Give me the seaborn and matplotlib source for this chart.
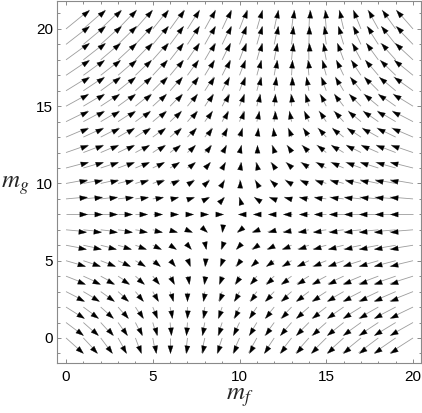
import numpy as np
import pandas as pd
import matplotlib
matplotlib.use("Agg")
import matplotlib.pyplot as plt
import seaborn as sns
from matplotlib.markers import MarkerStyle
from matplotlib.path import Path
from matplotlib.collections import LineCollection
from matplotlib.ticker import MultipleLocator

# ---------------- data ----------------
# arrow tails sit on the integer grid m_f = 0..20, m_g = 0..20
MF_GRID = list(range(21))
MG_GRID = list(range(21))

# horizontal component of each drawn arrow (grid units), one row per m_g value 0..20
U_ROWS = [
    [0.96, 0.80, 0.64, 0.48, 0.32, 0.16, 0.00, -0.10, -0.19, -0.29, -0.38, -0.48, -0.57, -0.67, -0.76, -0.86, -0.95, -1.05, -1.14, -1.24, -1.33],
    [0.99, 0.84, 0.68, 0.53, 0.37, 0.22, 0.06, -0.06, -0.16, -0.25, -0.35, -0.45, -0.55, -0.65, -0.74, -0.84, -0.94, -1.04, -1.13, -1.23, -1.33],
    [1.02, 0.87, 0.72, 0.56, 0.41, 0.26, 0.11, -0.03, -0.13, -0.23, -0.33, -0.43, -0.53, -0.63, -0.73, -0.83, -0.93, -1.03, -1.13, -1.23, -1.33],
    [1.05, 0.90, 0.75, 0.60, 0.45, 0.30, 0.15, 0.00, -0.10, -0.21, -0.31, -0.41, -0.52, -0.62, -0.72, -0.82, -0.93, -1.03, -1.13, -1.24, -1.34],
    [1.08, 0.94, 0.79, 0.65, 0.50, 0.36, 0.22, 0.07, -0.05, -0.16, -0.27, -0.38, -0.48, -0.59, -0.70, -0.80, -0.91, -1.02, -1.13, -1.23, -1.34],
    [1.11, 0.97, 0.83, 0.69, 0.55, 0.41, 0.27, 0.13, -0.01, -0.12, -0.23, -0.34, -0.45, -0.56, -0.68, -0.79, -0.90, -1.01, -1.12, -1.23, -1.34],
    [1.14, 1.00, 0.87, 0.73, 0.60, 0.46, 0.33, 0.19, 0.05, -0.07, -0.19, -0.30, -0.42, -0.54, -0.65, -0.77, -0.88, -1.00, -1.12, -1.23, -1.35],
    [1.17, 1.04, 0.91, 0.78, 0.64, 0.51, 0.38, 0.25, 0.12, -0.01, -0.13, -0.26, -0.38, -0.50, -0.62, -0.74, -0.86, -0.99, -1.11, -1.23, -1.35],
    [1.20, 1.07, 0.94, 0.81, 0.68, 0.55, 0.43, 0.30, 0.17, 0.04, -0.09, -0.21, -0.34, -0.47, -0.59, -0.72, -0.85, -0.97, -1.10, -1.22, -1.35],
    [1.21, 1.09, 0.96, 0.84, 0.72, 0.59, 0.47, 0.35, 0.22, 0.10, -0.03, -0.16, -0.29, -0.42, -0.55, -0.68, -0.81, -0.95, -1.08, -1.21, -1.34],
    [1.22, 1.10, 0.98, 0.86, 0.74, 0.62, 0.50, 0.37, 0.25, 0.13, 0.01, -0.12, -0.25, -0.39, -0.52, -0.65, -0.79, -0.92, -1.05, -1.19, -1.32],
    [1.24, 1.12, 1.00, 0.89, 0.77, 0.65, 0.53, 0.41, 0.30, 0.18, 0.06, -0.07, -0.21, -0.34, -0.48, -0.62, -0.75, -0.89, -1.03, -1.16, -1.30],
    [1.25, 1.14, 1.02, 0.91, 0.80, 0.68, 0.57, 0.45, 0.34, 0.23, 0.11, 0.00, -0.14, -0.28, -0.42, -0.56, -0.71, -0.85, -0.99, -1.13, -1.27],
    [1.26, 1.15, 1.04, 0.93, 0.83, 0.72, 0.61, 0.50, 0.39, 0.28, 0.17, 0.07, -0.06, -0.21, -0.35, -0.50, -0.65, -0.80, -0.94, -1.09, -1.24],
    [1.27, 1.17, 1.06, 0.96, 0.85, 0.75, 0.65, 0.54, 0.44, 0.33, 0.23, 0.13, 0.02, -0.12, -0.28, -0.43, -0.58, -0.74, -0.89, -1.05, -1.20],
    [1.29, 1.19, 1.08, 0.98, 0.88, 0.78, 0.68, 0.57, 0.47, 0.37, 0.27, 0.16, 0.06, -0.06, -0.22, -0.38, -0.53, -0.69, -0.85, -1.00, -1.16],
    [1.30, 1.20, 1.10, 1.00, 0.90, 0.80, 0.70, 0.61, 0.51, 0.41, 0.31, 0.21, 0.11, 0.01, -0.15, -0.31, -0.47, -0.63, -0.80, -0.96, -1.12],
    [1.31, 1.21, 1.12, 1.02, 0.92, 0.82, 0.73, 0.63, 0.53, 0.44, 0.34, 0.24, 0.15, 0.05, -0.08, -0.25, -0.42, -0.58, -0.75, -0.91, -1.08],
    [1.32, 1.23, 1.13, 1.04, 0.94, 0.85, 0.75, 0.66, 0.56, 0.47, 0.37, 0.28, 0.18, 0.09, -0.02, -0.19, -0.36, -0.53, -0.70, -0.87, -1.04],
    [1.33, 1.24, 1.14, 1.05, 0.96, 0.86, 0.77, 0.67, 0.58, 0.49, 0.39, 0.30, 0.21, 0.11, 0.02, -0.14, -0.31, -0.48, -0.66, -0.83, -1.00],
    [1.34, 1.25, 1.16, 1.06, 0.97, 0.88, 0.79, 0.69, 0.60, 0.51, 0.42, 0.32, 0.23, 0.14, 0.05, -0.09, -0.26, -0.44, -0.61, -0.79, -0.96],
]
# vertical component of the drawn arrows, one value per m_g row 0..20
V_ROW = [-0.96, -0.84, -0.72, -0.60, -0.48, -0.36, -0.24, -0.12, 0.00, 0.12,
         0.25, 0.37, 0.49, 0.60, 0.70, 0.80, 0.90, 0.99, 1.08, 1.16, 1.23]

X_TICKS = [0, 5, 10, 15, 20]
Y_TICKS = [0, 5, 10, 15, 20]
X_LABEL = r"$m_f$"
Y_LABEL = r"$m_g$"

assert all(len(r) == len(MF_GRID) for r in U_ROWS) and len(U_ROWS) == len(MG_GRID)

# long-form table of arrows
rows = []
for iy, yv in enumerate(MG_GRID):
    for ix, xv in enumerate(MF_GRID):
        rows.append((xv, yv, U_ROWS[iy][ix], V_ROW[iy]))
df = pd.DataFrame(rows, columns=["mf", "mg", "u", "v"])

# ---------------- style ----------------
sns.set_theme(style="ticks")
plt.rcParams["font.family"] = ["Liberation Sans", "DejaVu Sans"]
plt.rcParams["mathtext.fontset"] = "stix"

W, H = 422, 413
fig = plt.figure(figsize=(W / 100, H / 100), dpi=100)
fig.patch.set_facecolor("white")
ax = fig.add_axes([57 / W, 50 / H, 364 / W, 362.5 / H])
ax.set_facecolor("white")
ax.set_xlim(-0.52, 20.46)
ax.set_ylim(-1.62, 21.84)

# shafts
tails = df[["mf", "mg"]].to_numpy(float)
tips = tails + df[["u", "v"]].to_numpy(float)
segs = np.stack([tails, tips], axis=1)
ax.add_collection(LineCollection(segs, colors="#9c9c9c", linewidths=0.6, zorder=2))

# arrow heads: fixed-size black triangles, tip at arrow end, rotated to screen direction
head = Path([(0, 0), (-1, 0.34), (-1, -0.34), (0, 0)],
            [Path.MOVETO, Path.LINETO, Path.LINETO, Path.CLOSEPOLY])
d0 = ax.transData.transform(tails)
d1 = ax.transData.transform(tips)
ang = np.degrees(np.arctan2(d1[:, 1] - d0[:, 1], d1[:, 0] - d0[:, 0]))
for (tx, ty), a in zip(tips, ang):
    ax.plot([tx], [ty], linestyle="none",
            marker=MarkerStyle(head).rotated(deg=a),
            markersize=11, color="black", markeredgewidth=0.2,
            markeredgecolor="black", zorder=3)

# axes frame & ticks
for s in ax.spines.values():
    s.set_color("#8a8a8a")
    s.set_linewidth(0.8)
    s.set_visible(True)
ax.set_xticks(X_TICKS)
ax.set_yticks(Y_TICKS)
ax.xaxis.set_minor_locator(MultipleLocator(1))
ax.yaxis.set_minor_locator(MultipleLocator(1))
ax.tick_params(which="both", direction="in", top=True, right=True,
               color="#8a8a8a", width=0.7)
ax.tick_params(which="major", length=3)
ax.tick_params(which="minor", length=1.8)
ax.tick_params(axis="x", which="major", labelsize=11, pad=5, labelcolor="black")
ax.tick_params(axis="y", which="major", labelsize=11, pad=3, labelcolor="black")

ax.set_xlabel(X_LABEL, fontsize=18, ha="center", va="top")
ax.xaxis.set_label_coords(0.503, -0.062)
ax.set_ylabel(Y_LABEL, fontsize=18, rotation=0, ha="left", va="center")
ax.yaxis.set_label_coords(-0.155, 0.49)

fig.savefig("out.png", dpi=100, facecolor="white")
